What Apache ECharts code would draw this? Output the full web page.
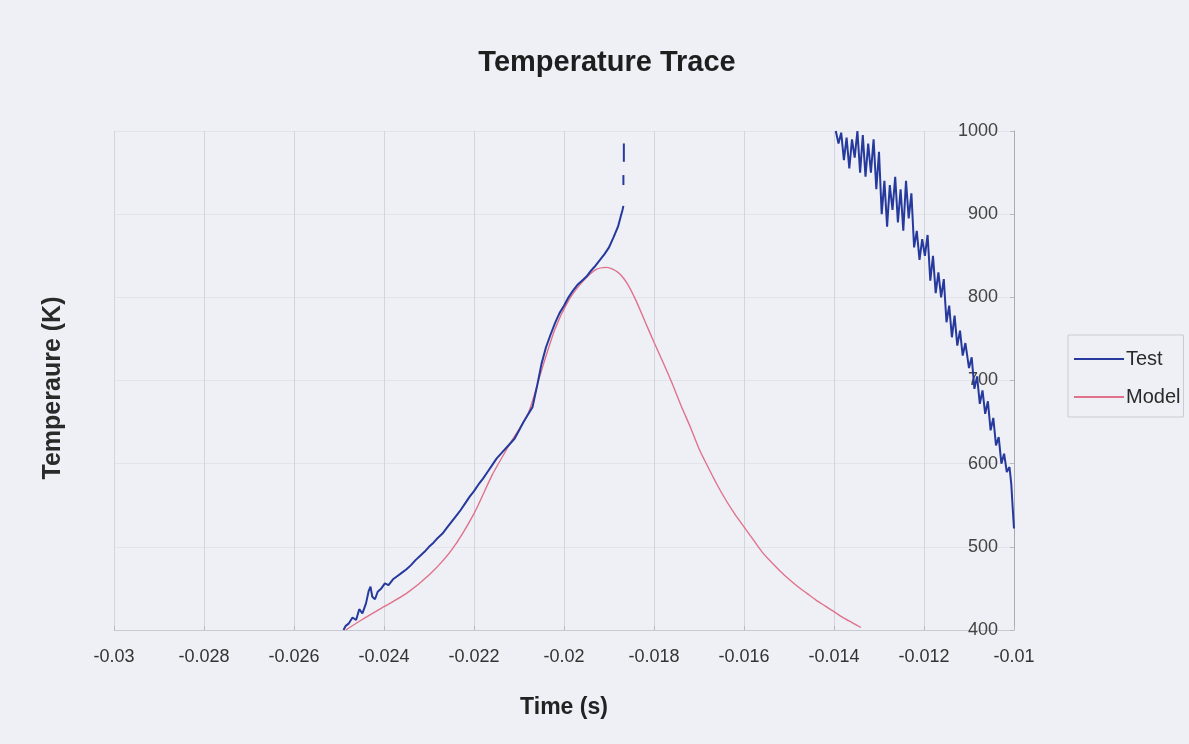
<!DOCTYPE html>
<html>
<head>
<meta charset="utf-8">
<title>Temperature Trace</title>
<script src="https://cdn.jsdelivr.net/npm/echarts@6/dist/echarts.min.js"></script>
<style>
  html, body { margin: 0; padding: 0; background: #eef0f5; }
  #chart { width: 1189px; height: 744px; }
</style>
</head>
<body>
<div id="chart"></div>
<script>
// Measured trace, rising branch (time in s, temperature in K)
var testRiseTime = [-0.02490, -0.02485, -0.02478, -0.02470, -0.02462, -0.02455, -0.02448, -0.02440, -0.02434, -0.02430,
  -0.02426, -0.02420, -0.02414, -0.02406, -0.02398, -0.02390, -0.02380, -0.02370, -0.02360, -0.02350,
  -0.02340, -0.02330, -0.02320, -0.02310, -0.02300, -0.02290, -0.02280, -0.02270, -0.02260, -0.02250,
  -0.02240, -0.02230, -0.02220, -0.02210, -0.02200, -0.02190, -0.02180, -0.02170, -0.02160, -0.02150,
  -0.02140, -0.02130, -0.02120, -0.02110, -0.02100, -0.02090, -0.02080, -0.02070, -0.02060, -0.02050,
  -0.02040, -0.02030, -0.02020, -0.02010, -0.02000, -0.01990, -0.01980, -0.01970, -0.01960, -0.01950,
  -0.01940, -0.01930, -0.01920, -0.01910, -0.01900, -0.01890, -0.01880, -0.01875, -0.01870, -0.01868];
var testRiseTemp = [400, 405, 408, 415, 412, 425, 420, 432, 447, 452,
  440, 437, 446, 450, 456, 454, 461, 465, 469, 473,
  478, 484, 489, 494, 500, 505, 511, 516, 523, 530,
  537, 544, 552, 560, 567, 575, 582, 590, 598, 606,
  612, 618, 624, 630, 640, 650, 659, 668, 693, 720,
  740, 755, 769, 781, 790, 800, 808, 815, 820, 825,
  832, 838, 845, 852, 860, 872, 885, 895, 905, 910];

// Isolated samples of the measured trace near the top of the scale
var testGapTimeA = [-0.01868, -0.01868];
var testGapTempA = [935, 947];
var testGapTimeB = [-0.01867, -0.01867];
var testGapTempB = [963, 985];

// Measured trace, falling branch
var testFallTime = [-0.01396, -0.01390, -0.01384, -0.01378, -0.01372, -0.01366, -0.01360, -0.01354, -0.01348, -0.01342,
  -0.01336, -0.01330, -0.01324, -0.01318, -0.01312, -0.01306, -0.01300, -0.01294, -0.01288, -0.01282,
  -0.01276, -0.01270, -0.01264, -0.01258, -0.01252, -0.01246, -0.01240, -0.01234, -0.01228, -0.01222,
  -0.01216, -0.01210, -0.01204, -0.01198, -0.01192, -0.01186, -0.01180, -0.01174, -0.01168, -0.01162,
  -0.01156, -0.01150, -0.01144, -0.01138, -0.01132, -0.01126, -0.01120, -0.01114, -0.01108, -0.01100,
  -0.01094, -0.01088, -0.01082, -0.01076, -0.01070, -0.01064, -0.01058, -0.01052, -0.01046, -0.01040,
  -0.01034, -0.01028, -0.01022, -0.01016, -0.01010, -0.01006, -0.01003, -0.01000];
var testFallTemp = [1000, 985, 998, 965, 992, 955, 990, 968, 1000, 950,
  995, 945, 985, 950, 990, 930, 975, 900, 940, 885,
  935, 905, 945, 890, 930, 880, 940, 895, 925, 860,
  880, 845, 870, 850, 875, 820, 850, 805, 830, 800,
  822, 770, 790, 752, 778, 742, 760, 730, 745, 715,
  728, 690, 705, 672, 688, 660, 675, 640, 655, 622,
  632, 600, 612, 590, 596, 575, 548, 522];

// Model prediction
var modelTime = [-0.02485, -0.02450, -0.02400, -0.02350, -0.02300, -0.02250, -0.02200, -0.02160, -0.02120, -0.02080,
  -0.02050, -0.02020, -0.01990, -0.01960, -0.01930, -0.01905, -0.01880, -0.01860, -0.01840, -0.01820,
  -0.01800, -0.01780, -0.01760, -0.01740, -0.01720, -0.01700, -0.01680, -0.01660, -0.01640, -0.01620,
  -0.01600, -0.01580, -0.01560, -0.01540, -0.01520, -0.01500, -0.01480, -0.01460, -0.01440, -0.01420,
  -0.01400, -0.01380, -0.01360, -0.01340];
var modelTemp = [400, 412, 428, 444, 466, 496, 540, 586, 624, 660,
  712, 762, 796, 818, 833, 836, 830, 817, 796, 771,
  746, 722, 697, 670, 645, 618, 596, 575, 556, 539,
  524, 509, 494, 482, 471, 461, 452, 444, 436, 429,
  422, 415, 409, 403];

// Axis ticks
var timeTicks = [-0.03, -0.028, -0.026, -0.024, -0.022, -0.02, -0.018, -0.016, -0.014, -0.012, -0.01];
var tempTicks = [400, 500, 600, 700, 800, 900, 1000];

function pairs(xs, ys) {
  return xs.map(function (x, i) { return [x, ys[i]]; });
}

var testColor = '#26399c';
var modelColor = '#e0728c';
var FONT = '"Liberation Sans", Arial, sans-serif';

function testSeries(data) {
  return {
    name: 'Test', type: 'line', data: data, symbol: 'none',
    lineStyle: { color: testColor, width: 2 }, itemStyle: { color: testColor },
    animation: false, z: 3
  };
}

var chart = echarts.init(document.getElementById('chart'));
chart.setOption({
  backgroundColor: '#eef0f5',
  animation: false,
  title: {
    text: 'Temperature Trace', left: 602, textAlign: 'center', top: 43,
    textStyle: { fontFamily: FONT, fontSize: 29, fontWeight: 'bold', color: '#1e1e1e' }
  },
  grid: { left: 114, right: 175, top: 131, bottom: 114 },
  legend: {
    orient: 'vertical', left: 1068, top: 335,
    data: ['Test', 'Model'],
    icon: 'rect', itemWidth: 50, itemHeight: 2, itemGap: 18,
    padding: [14, 3, 10, 6],
    borderColor: '#c9cbd2', borderWidth: 1,
    textStyle: { fontFamily: FONT, fontSize: 20, color: '#2a2a2a', padding: [0, 0, 0, -3] }
  },
  xAxis: {
    type: 'value', min: -0.03, max: -0.01, interval: 0.002,
    name: 'Time (s)', nameLocation: 'middle', nameGap: 66,
    nameTextStyle: { fontFamily: FONT, fontSize: 23, fontWeight: 'bold', color: '#222' },
    axisLine: { show: true, lineStyle: { color: '#c8cad2' } },
    axisTick: { show: true, inside: true, length: 4, lineStyle: { color: '#b8bac2' } },
    axisLabel: {
      margin: 18, fontFamily: FONT, fontSize: 18, color: '#333',
      formatter: function (v) {
        var t = timeTicks.find(function (k) { return Math.abs(k - v) < 1e-9; });
        return t === undefined ? '' : String(t);
      }
    },
    splitLine: { show: true, lineStyle: { color: '#d3d5dd', width: 1 } }
  },
  yAxis: {
    type: 'value', position: 'right', min: 400, max: 1000, interval: 100,
    axisLine: { show: true, lineStyle: { color: '#a9abb3' } },
    axisTick: { show: true, inside: true, length: 4, lineStyle: { color: '#b8bac2' } },
    axisLabel: {
      inside: true, margin: 16, fontFamily: FONT, fontSize: 18, color: '#444',
      formatter: function (v) { return tempTicks.indexOf(v) >= 0 ? String(v) : ''; }
    },
    splitLine: { show: true, lineStyle: { color: '#e2e4ea', width: 1 } }
  },
  graphic: [{
    type: 'text', rotation: Math.PI / 2,
    style: {
      text: 'Temperaure (K)', fontFamily: FONT, fontSize: 25, fontWeight: 'bold',
      fill: '#2a2a2a', textAlign: 'center', textVerticalAlign: 'middle'
    },
    x: 53, y: 388
  }],
  series: [
    testSeries(pairs(testRiseTime, testRiseTemp)),
    testSeries(pairs(testGapTimeA, testGapTempA)),
    testSeries(pairs(testGapTimeB, testGapTempB)),
    testSeries(pairs(testFallTime, testFallTemp)),
    {
      name: 'Model', type: 'line', data: pairs(modelTime, modelTemp), symbol: 'none', smooth: 0.25,
      lineStyle: { color: modelColor, width: 1.4 }, itemStyle: { color: modelColor },
      animation: false, z: 2
    }
  ]
});
</script>
</body>
</html>
